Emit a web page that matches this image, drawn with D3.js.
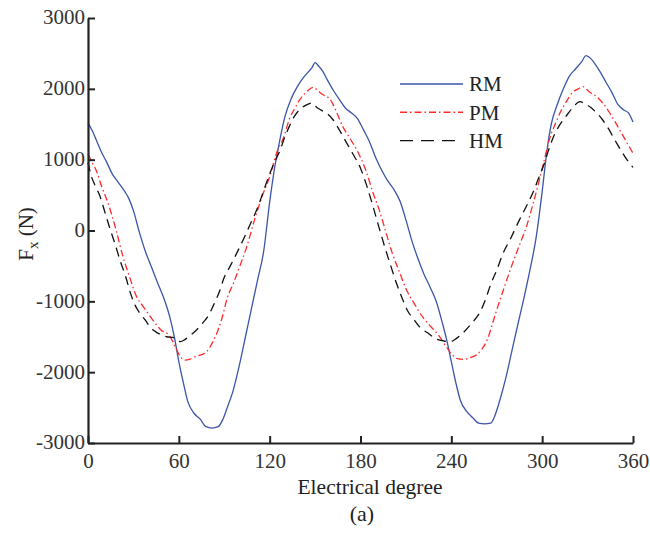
<!DOCTYPE html>
<meta charset="utf-8">
<style>
body { margin: 0; background: #fff; }
svg text { font-family: "Times New Roman", "Liberation Serif", Times, serif; }
.axis path, .axis line { stroke: #222; }
.axis text { fill: #333; font-size: 21px; }
.line { fill: none; }
</style>
<svg width="650" height="533"></svg>
<script src="https://cdn.jsdelivr.net/npm/d3@7"></script>
<script>
// values: [degree, Fx in N]
var rm = [[0,1520],[3,1400],[6,1250],[9,1100],[12,980],[16,800],[20,680],[24,560],[27,450],[30,280],[34,-30],[38,-300],[42,-520],[46,-740],[50,-950],[54,-1220],[57,-1500],[60,-1850],[63,-2150],[66,-2420],[70,-2580],[74,-2660],[78,-2770],[82,-2790],[86,-2770],[89,-2670],[92,-2500],[96,-2250],[100,-1900],[104,-1500],[108,-1100],[112,-700],[116,-300],[120,400],[123,850],[126,1200],[130,1600],[134,1850],[138,2020],[142,2150],[146,2250],[148,2300],[150,2370],[152,2330],[155,2250],[158,2130],[162,1980],[166,1850],[170,1730],[174,1660],[178,1580],[182,1420],[186,1250],[190,1030],[194,850],[198,700],[202,580],[206,420],[210,150],[214,-150],[218,-400],[222,-620],[226,-800],[230,-1000],[234,-1300],[237,-1550],[240,-1850],[243,-2150],[246,-2400],[250,-2550],[254,-2640],[258,-2720],[262,-2730],[266,-2720],[269,-2600],[272,-2400],[276,-2080],[280,-1700],[284,-1320],[288,-950],[292,-550],[296,-100],[300,550],[303,1100],[306,1500],[310,1780],[314,2000],[318,2180],[322,2280],[326,2380],[329,2470],[332,2430],[335,2350],[338,2250],[342,2100],[346,1950],[350,1780],[354,1700],[357,1660],[360,1530]];
var pm = [[0,1080],[3,950],[6,820],[9,620],[12,460],[16,200],[19,-30],[23,-360],[28,-690],[32,-930],[36,-1060],[40,-1180],[44,-1300],[48,-1400],[54,-1490],[58,-1660],[61,-1780],[64,-1830],[67,-1820],[70,-1790],[74,-1760],[78,-1720],[82,-1590],[86,-1400],[89,-1200],[92,-950],[96,-750],[100,-520],[105,-220],[110,150],[115,480],[120,760],[125,1120],[129,1300],[133,1570],[137,1740],[140,1850],[144,1950],[149,2020],[152,1970],[155,1920],[160,1850],[164,1680],[168,1480],[173,1300],[178,1120],[184,820],[188,550],[193,250],[197,-40],[201,-320],[206,-600],[210,-820],[216,-1050],[221,-1220],[227,-1370],[232,-1490],[236,-1620],[240,-1740],[244,-1810],[248,-1820],[253,-1790],[257,-1750],[260,-1680],[264,-1530],[267,-1330],[270,-1120],[275,-800],[279,-550],[284,-260],[290,80],[294,380],[298,700],[302,1050],[305,1300],[309,1520],[312,1670],[316,1820],[320,1950],[324,2000],[327,2030],[331,1960],[336,1890],[340,1800],[344,1680],[348,1540],[352,1390],[356,1240],[360,1090]];
var hm = [[0,960],[2,780],[5,620],[8,480],[11,270],[14,60],[18,-200],[21,-410],[25,-660],[28,-880],[31,-1050],[34,-1160],[38,-1270],[41,-1360],[44,-1420],[48,-1470],[52,-1500],[56,-1510],[61,-1570],[64,-1540],[67,-1490],[71,-1420],[76,-1300],[79,-1220],[83,-1050],[87,-850],[90,-660],[94,-500],[98,-330],[103,-110],[107,80],[112,320],[116,560],[120,800],[124,1000],[127,1140],[130,1320],[133,1470],[136,1600],[140,1710],[144,1770],[148,1800],[151,1740],[154,1700],[158,1650],[162,1560],[166,1420],[171,1230],[175,1080],[180,880],[184,640],[188,360],[192,60],[196,-230],[200,-500],[204,-760],[208,-980],[211,-1130],[215,-1250],[219,-1360],[224,-1440],[230,-1530],[235,-1560],[239,-1570],[243,-1530],[248,-1440],[253,-1320],[259,-1150],[263,-950],[266,-760],[270,-560],[274,-330],[279,-120],[285,150],[290,360],[294,540],[298,760],[301,920],[304,1120],[307,1300],[311,1470],[316,1620],[320,1730],[325,1820],[328,1790],[332,1740],[336,1660],[340,1560],[344,1430],[349,1240],[353,1100],[356,1000],[360,890]];

var series = [
  {name: "RM", values: rm, color: "#3b55a8", dash: null, width: 1.3},
  {name: "PM", values: pm, color: "#ff2a2a", dash: "7,3,1.5,3", width: 1.3},
  {name: "HM", values: hm, color: "#111", dash: "9,6", width: 1.3}
];
var xTicks = [0, 60, 120, 180, 240, 300, 360];
var yTicks = [-3000, -2000, -1000, 0, 1000, 2000, 3000];

var svg = d3.select("svg"),
    margin = {top: 18, right: 17, bottom: 90, left: 88},
    width = svg.attr("width") - margin.left - margin.right,
    height = svg.attr("height") - margin.top - margin.bottom,
    g = svg.append("g").attr("transform", "translate(" + margin.left + "," + margin.top + ")");

var x = d3.scaleLinear().domain([0, 360]).range([0, width]),
    y = d3.scaleLinear().domain([-3000, 3000]).range([height, 0]);

var line = d3.line()
    .x(function(d) { return x(d[0]); })
    .y(function(d) { return y(d[1]); })
    .curve(d3.curveMonotoneX);

g.selectAll(".line")
  .data(series)
  .enter().append("path")
    .attr("class", "line")
    .attr("d", function(d) { return line(d.values); })
    .style("stroke", function(d) { return d.color; })
    .style("stroke-width", function(d) { return d.width; })
    .style("stroke-dasharray", function(d) { return d.dash; });

var fmt = function(d) { return String(d); };

var xAxis = g.append("g")
    .attr("class", "axis axis--x")
    .attr("transform", "translate(0," + height + ")")
    .call(d3.axisBottom(x).tickValues(xTicks).tickFormat(fmt).tickSizeInner(-7).tickSizeOuter(0).tickPadding(10));
xAxis.attr("font-family", null).attr("font-size", null);
xAxis.select(".domain").attr("stroke-width", 2.2);
xAxis.selectAll(".tick line").attr("stroke-width", 2);

var yAxis = g.append("g")
    .attr("class", "axis axis--y")
    .call(d3.axisLeft(y).tickValues(yTicks).tickFormat(fmt).tickSizeInner(-7).tickSizeOuter(0).tickPadding(3));
yAxis.attr("font-family", null).attr("font-size", null);
yAxis.select(".domain").attr("stroke-width", 2.2);
yAxis.selectAll(".tick line").attr("stroke-width", 2);
yAxis.selectAll(".tick text").attr("dy", "0.28em");

svg.append("text")
    .attr("x", 370)
    .attr("y", 494)
    .attr("text-anchor", "middle")
    .style("font-size", "21.5px")
    .style("fill", "#222")
    .text("Electrical degree");

svg.append("text")
    .attr("x", 362)
    .attr("y", 521)
    .attr("text-anchor", "middle")
    .style("font-size", "22px")
    .style("fill", "#222")
    .text("(a)");

var ylab = svg.append("text")
    .attr("transform", "translate(33,234) rotate(-90)")
    .attr("text-anchor", "middle")
    .style("font-size", "21px")
    .style("fill", "#222");
ylab.append("tspan").text("F");
ylab.append("tspan").attr("dy", 5).style("font-size", "15px").text("x");
ylab.append("tspan").attr("dy", -5).text(" (N)");

var legend = svg.append("g").selectAll(".leg")
  .data(series)
  .enter().append("g")
    .attr("transform", function(d, i) { return "translate(400," + (84 + i * 28.3) + ")"; });

legend.append("line")
    .attr("x1", 0).attr("x2", 63)
    .style("stroke", function(d) { return d.color; })
    .style("stroke-width", function(d) { return d.name == "RM" ? 1.6 : 1.4; })
    .style("stroke-dasharray", function(d) { return d.name == "HM" ? "13,8" : d.dash; });

legend.append("text")
    .attr("x", 69)
    .attr("dy", "0.35em")
    .style("font-size", "21px")
    .style("fill", "#222")
    .text(function(d) { return d.name; });
</script>
